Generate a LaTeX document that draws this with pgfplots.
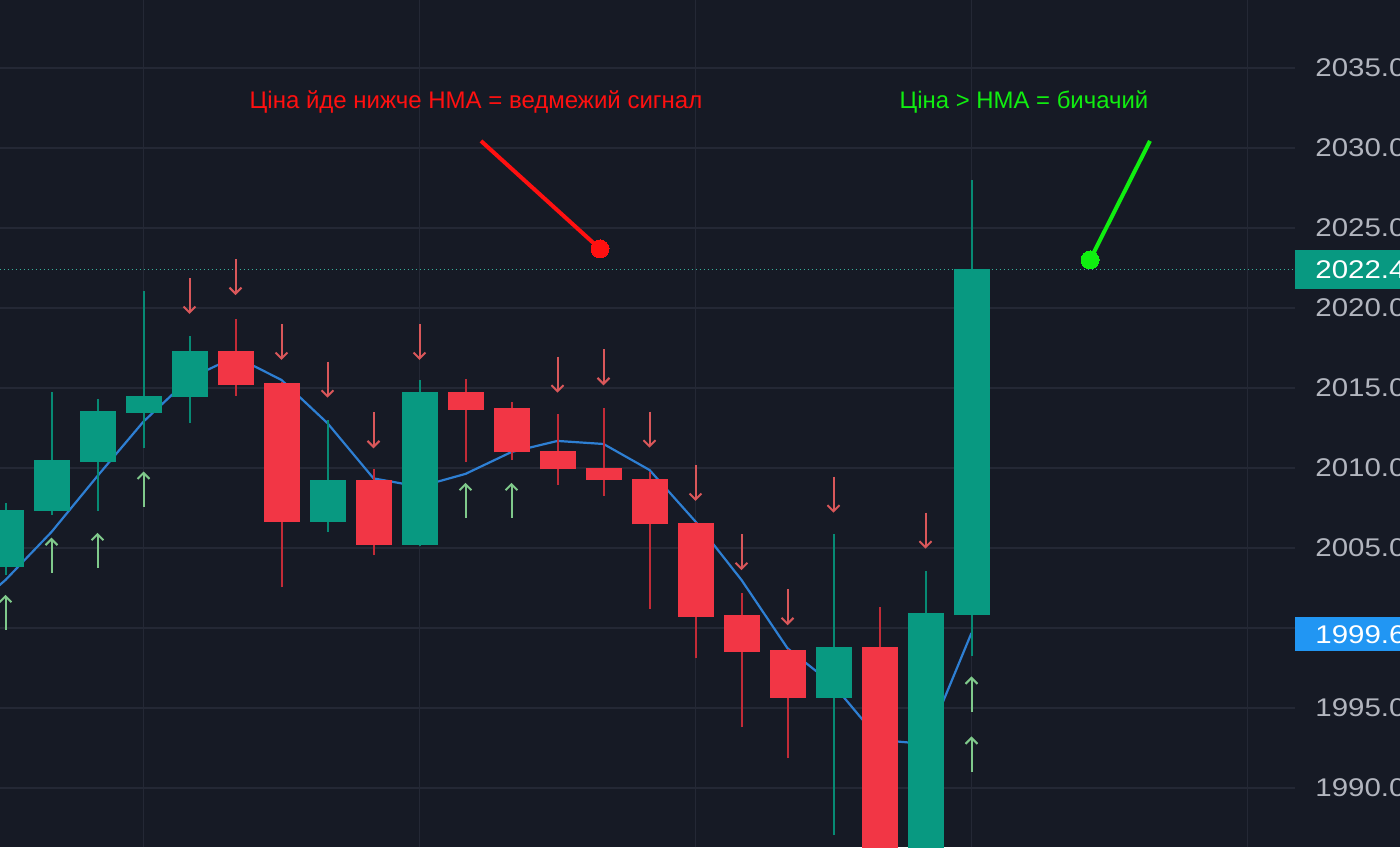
\documentclass[border=0pt]{standalone}
\usepackage{pgfplots}
\pgfplotsset{compat=1.18}
\usepackage{pgfplotstable}
\usetikzlibrary{arrows.meta}
\usepackage{fontspec}
\setmainfont{Liberation Sans}
\newfontfamily\tickfont[FakeStretch=1.15]{Liberation Sans}
\definecolor{bgc}{HTML}{161A25}
\definecolor{gridc}{HTML}{242835}
\definecolor{cg}{HTML}{089981}
\definecolor{cr}{HTML}{F23645}
\definecolor{hmac}{HTML}{2E7FD3}
\definecolor{upc}{HTML}{7FC98B}
\definecolor{dnc}{HTML}{D9575A}
\definecolor{tickc}{HTML}{B2B5BE}
\definecolor{bluebox}{HTML}{2196F3}
\definecolor{annr}{HTML}{FF1010}
\definecolor{anng}{HTML}{10EE10}

% k low high bot top
\pgfplotstableread{
k low high bot top
0 2003.31 2007.81 2003.81 2007.375
1 2007.06 2014.77 2007.33 2010.5
2 2007.33 2014.31 2010.4 2013.56
3 2011.23 2021.06 2013.46 2014.52
4 2012.8 2018.25 2014.42 2017.31
7 2006.02 2013.0 2006.64 2009.25
9 2005.1 2015.5 2005.19 2014.77
18 1987.06 2005.86 1995.64 1998.79
20 1980.0 2003.56 1984.5 2000.92
21 1998.25 2028.0 2000.81 2022.42
}\greentab
\pgfplotstableread{
k low high bot top
5 2014.52 2019.31 2015.19 2017.31
6 2002.54 2015.4 2006.64 2015.29
8 2004.56 2009.94 2005.19 2009.25
10 2010.4 2015.54 2013.63 2014.77
11 2010.5 2014.14 2010.98 2013.73
12 2008.94 2013.375 2009.92 2011.06
13 2008.27 2013.73 2009.25 2009.98
14 2001.19 2009.77 2006.48 2009.31
15 1998.1 2006.6 2000.71 2006.54
16 1993.79 2002.21 1998.52 2000.81
17 1991.86 1998.7 1995.64 1998.625
19 1982.0 2001.29 1984.5 1998.79
}\redtab
\pgfplotstableread{
k y dv
0 1999.875 2.2
1 2003.44 2.2
2 2003.75 2.2
3 2007.58 2.2
10 2006.875 2.2
11 2006.875 2.2
21 1994.77 2.2
21 1991.02 2.2
}\uptab
\pgfplotstableread{
k y dv
4 2021.875 -2.25
5 2023.06 -2.25
6 2019.0 -2.25
7 2016.64 -2.25
8 2013.48 -2.25
9 2019.0 -2.25
12 2016.96 -2.25
13 2017.42 -2.25
14 2013.52 -2.25
15 2010.19 -2.25
16 2005.86 -2.25
17 2002.42 -2.25
18 2009.46 -2.25
20 2007.21 -2.25
}\dntab

\begin{document}
\begin{tikzpicture}
\useasboundingbox (0,0) rectangle (700pt,423.5pt);
\clip (0,0) rectangle (700pt,423.5pt);
\fill[bgc] (0,0) rectangle (700pt,423.5pt);
\begin{axis}[
  at={(0,0)}, anchor=south west,
  width=647.5pt, height=423.5pt, scale only axis,
  xmin=-0.1196, xmax=28.033, ymin=1986.31, ymax=2039.25,
  axis line style={draw=none},
  xtick={3,9,15,21,27}, xticklabels={},
  ytick={1990,1995,2000,2005,2010,2015,2020,2025,2030,2035},
  yticklabels={1990.00,1995.00,,2005.00,2010.00,2015.00,2020.00,2025.00,2030.00,2035.00},
  yticklabel pos=right,
  major tick length=0pt,
  grid=major,
  major grid style={draw=gridc, line width=0.7pt},
  yticklabel style={text=tickc, font=\tickfont\fontsize{12.8}{15}\selectfont, anchor=west, inner sep=0pt, xshift=10pt},
]
% last price dotted line
\addplot[draw=cg!80!white, line width=0.6pt, dash pattern=on 0.6pt off 1.4pt, forget plot] coordinates {(-1,2022.42) (29,2022.42)};
% HMA
\addplot[draw=hmac, line width=1.1pt, forget plot] coordinates {
(-1,2000.5) (0,2003.0) (1,2006.0) (2,2009.5) (3,2012.9) (4,2015.6) (5,2016.96) (6,2015.5) (7,2012.8)
(8,2009.35) (9,2008.83) (10,2009.63) (11,2011.0) (12,2011.69) (13,2011.5) (14,2009.875) (15,2006.65)
(16,2003.0) (17,1998.73) (18,1996.44) (19,1993.0) (20,1992.75) (21,1999.69)};
% wicks
\addplot[draw=none, mark=none, forget plot, error bars/.cd, y dir=plus, y explicit, error mark=none,
  error bar style={draw=cg!90!black, line width=1pt}]
  table[x=k, y=low, y error plus expr=\thisrow{high}-\thisrow{low}] {\greentab};
\addplot[draw=none, mark=none, forget plot, error bars/.cd, y dir=plus, y explicit, error mark=none,
  error bar style={draw=cr!80!black, line width=1pt}]
  table[x=k, y=low, y error plus expr=\thisrow{high}-\thisrow{low}] {\redtab};
% bodies
\addplot[draw=none, mark=none, forget plot, error bars/.cd, y dir=plus, y explicit, error mark=none,
  error bar style={draw=cg, line width=18pt}]
  table[x=k, y=bot, y error plus expr=\thisrow{top}-\thisrow{bot}] {\greentab};
\addplot[draw=none, mark=none, forget plot, error bars/.cd, y dir=plus, y explicit, error mark=none,
  error bar style={draw=cr, line width=18pt}]
  table[x=k, y=bot, y error plus expr=\thisrow{top}-\thisrow{bot}] {\redtab};
% arrows
\addplot[draw=upc, line width=1pt, -{Straight Barb[length=3pt,width=6pt]}, quiver={u=0, v=\thisrow{dv}}, forget plot]
  table[x=k, y=y] {\uptab};
\addplot[draw=dnc, line width=1pt, -{Straight Barb[length=3pt,width=6pt]}, quiver={u=0, v=\thisrow{dv}}, forget plot]
  table[x=k, y=y] {\dntab};
% annotations
\addplot[draw=annr, line width=2pt, mark=*, mark size=4.5pt, mark options={fill=annr, draw=annr, line width=0pt}, mark indices={2}, forget plot]
  coordinates {(10.337,2030.44) (12.924,2023.69)};
\addplot[draw=anng, line width=2pt, mark=*, mark size=4.5pt, mark options={fill=anng, draw=anng, line width=0pt}, mark indices={2}, forget plot]
  coordinates {(24.88,2030.44) (23.576,2023.0)};
\node[text=annr, font=\fontsize{12}{14}\selectfont] at (axis cs:10.228,2032.875) {Ціна йде нижче НМА = ведмежий сигнал};
\node[text=anng, font=\fontsize{11.95}{14}\selectfont] at (axis cs:22.14,2032.875) {Ціна > НМА = бичачий};
\coordinate (gbox) at (axis cs:28.033,2022.42);
\coordinate (bbox) at (axis cs:28.033,1999.6);
\end{axis}
\node[fill=cg, text=white, anchor=west, inner xsep=10pt, inner ysep=0pt, minimum height=19.5pt, font=\tickfont\fontsize{12.8}{15}\selectfont] at (gbox) {2022.42};
\node[fill=bluebox, text=white, anchor=west, inner xsep=10pt, inner ysep=0pt, minimum height=17pt, font=\tickfont\fontsize{12.8}{15}\selectfont] at (bbox) {1999.60};
\end{tikzpicture}
\end{document}
